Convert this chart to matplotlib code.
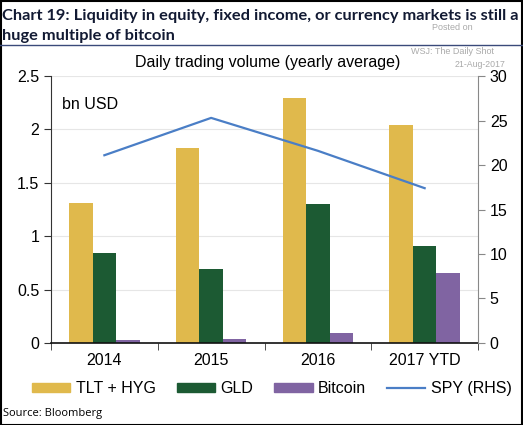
import numpy as np
import matplotlib.pyplot as plt
from matplotlib.patches import Patch
from matplotlib.lines import Line2D

# data
years = ["2014", "2015", "2016", "2017 YTD"]
tlt_hyg = [1.31, 1.83, 2.29, 2.04]
gld = [0.84, 0.69, 1.30, 0.91]
bitcoin = [0.03, 0.04, 0.09, 0.66]
spy = [21.1, 25.3, 21.6, 17.4]  # RHS

c_yellow = "#E0B94C"
c_green = "#1C5A33"
c_purple = "#8064A2"
c_blue = "#4A7EC6"

plt.rcParams['font.family'] = ['Liberation Sans', 'DejaVu Sans']

fig = plt.figure(figsize=(5.23, 4.25), dpi=100)
ax = fig.add_axes([0.0975, 0.193, 0.8165, 0.628])

x = np.arange(len(years))
w = 0.22
ax.bar(x - w, tlt_hyg, w, color=c_yellow, zorder=2)
ax.bar(x, gld, w, color=c_green, zorder=2)
ax.bar(x + w, bitcoin, w, color=c_purple, zorder=2)

ax.set_xlim(-0.5, 3.5)
ax.set_ylim(0, 2.5)
ax.set_yticks([0, 0.5, 1, 1.5, 2, 2.5])
ax.set_yticklabels(["0", "0.5", "1", "1.5", "2", "2.5"])
ax.yaxis.grid(True, color="#e6e6e6", lw=0.8, zorder=0)
ax.set_xticks(x)
ax.set_xticklabels(years)
ax.set_xticks(np.arange(-0.5, 4, 1), minor=True)
ax.tick_params(axis="x", which="major", length=0, labelsize=11.5, pad=7)
ax.tick_params(axis="x", which="minor", length=5, color="#333333")
ax.tick_params(axis="y", labelsize=11.5, length=5, color="#333333", direction="out")
for s in ["top", "right"]:
    ax.spines[s].set_visible(False)
ax.spines["left"].set_color("#333333")
ax.spines["bottom"].set_color("#111111")
ax.spines["bottom"].set_linewidth(1.2)

ax2 = ax.twinx()
ax2.plot(x, spy, color=c_blue, lw=1.6, zorder=3)
ax2.set_ylim(0, 30)
ax2.set_yticks([0, 5, 10, 15, 20, 25, 30])
ax2.tick_params(axis="y", labelsize=11.5, length=5, color="#888888")
for s in ["top", "left", "bottom"]:
    ax2.spines[s].set_visible(False)
ax2.spines["right"].set_color("#888888")

ax.text(0.025, 0.92, "bn USD", transform=ax.transAxes, fontsize=11.5, va="top")

# title block
title_font = dict(fontsize=11.8, fontweight="bold", family=["Lato", "DejaVu Sans"], color="#121a33",
                  va="center", ha="left")
fig.text(0.004, 0.962, "Chart 19: Liquidity in equity, fixed income, or currency markets is still a", **title_font)
fig.text(0.004, 0.915, "huge multiple of bitcoin", **title_font)
fig.add_artist(Line2D([0, 1], [0.893, 0.893], transform=fig.transFigure, color="#3a4a7a", lw=1))
fig.text(0.512, 0.853, "Daily trading volume (yearly average)", fontsize=11.5, ha="center", va="center")
fig.text(0.864, 0.936, "Posted on", fontsize=6.5, color="#aaaaaa", va="center", ha="center")
fig.text(0.865, 0.879, "WSJ: The Daily Shot", fontsize=6.5, color="#aaaaaa", va="center", ha="center")
fig.text(0.918, 0.848, "21-Aug-2017", fontsize=6.3, color="#aaaaaa", va="center", ha="center")

handles = [Patch(color=c_yellow), Patch(color=c_green), Patch(color=c_purple),
           Line2D([], [], color=c_blue, lw=1.6)]
fig.legend(handles, ["TLT + HYG", "GLD", "Bitcoin", "SPY (RHS)"], loc="center",
           bbox_to_anchor=(0.52, 0.085), ncol=4, frameon=False, fontsize=11.5,
           handlelength=2.4, handleheight=0.5, columnspacing=1.3, handletextpad=0.35)
fig.text(0.006, 0.028, "Source: Bloomberg", fontsize=8, family=["Open Sans", "DejaVu Sans"], va="center")

fig.add_artist(plt.Rectangle((0.001, 0.001), 0.997, 0.997, transform=fig.transFigure,
                             fill=False, edgecolor="black", lw=1.5))

fig.savefig("out.png", dpi=100)
